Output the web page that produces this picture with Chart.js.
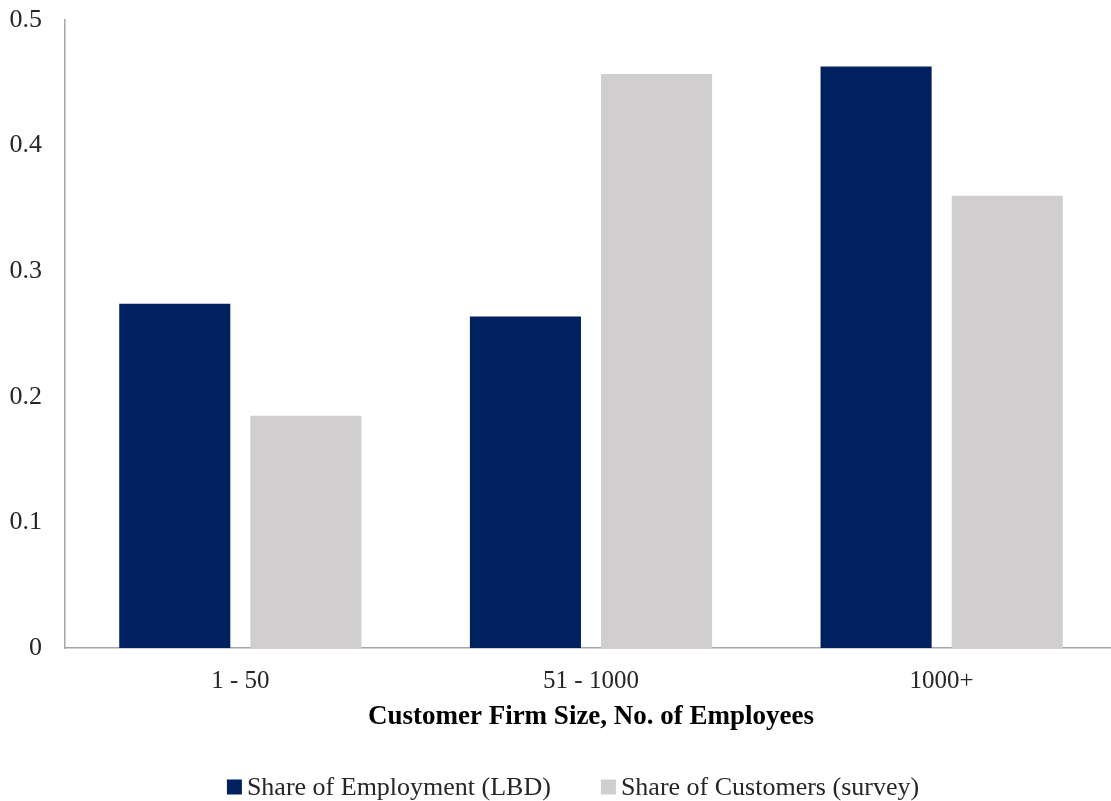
<!DOCTYPE html>
<html>
<head>
<meta charset="utf-8">
<script src="https://cdn.jsdelivr.net/npm/chart.js@4.4.0/dist/chart.umd.min.js"></script>
<style>
  html, body { margin: 0; padding: 0; background: #fff; overflow: hidden; }
  /* canvas is a little wider than the window: the plot runs past the right edge, as in the original */
  #wrap { width: 1111px; height: 801px; overflow: hidden; }
</style>
</head>
<body>
<div id="wrap"><canvas id="chart" width="1117" height="801"></canvas></div>
<script>
// data
var categories = ['1 - 50', '51 - 1000', '1000+'];
var employmentShare = [0.274, 0.264, 0.463];
var customerShare = [0.185, 0.457, 0.360];
var seriesNames = ['Share of Employment (LBD)', 'Share of Customers (survey)'];
var yTicks = [0, 0.1, 0.2, 0.3, 0.4, 0.5];

var FONT = '"Liberation Serif", "DejaVu Serif", serif';
var NAVY = '#002060';
var GREY = '#D0CECE';
var AXIS = '#A6A6A6';
var TEXT = '#262626';

// legend drawn by hand so the spacing between items can be matched
var bottomLegend = {
    id: 'bottomLegend',
    afterDraw: function (chart) {
        var ctx = chart.ctx;
        var sets = chart.data.datasets;
        var box = 15, textGap = 5, itemGap = 50, y = 787;
        ctx.save();
        ctx.font = '26px ' + FONT;
        ctx.textBaseline = 'middle';
        var widths = sets.map(function (ds) { return box + textGap + ctx.measureText(ds.label).width; });
        var total = widths.reduce(function (a, b) { return a + b; }, 0) + itemGap * (sets.length - 1);
        var x = 573 - total / 2;
        sets.forEach(function (ds, i) {
            ctx.fillStyle = ds.backgroundColor;
            ctx.fillRect(x, y - box / 2, box, box);
            ctx.fillStyle = TEXT;
            ctx.fillText(ds.label, x + box + textGap, y + 1);
            x += widths[i] + itemGap;
        });
        ctx.restore();
    }
};

new Chart(document.getElementById('chart'), {
    type: 'bar',
    data: {
        labels: categories,
        datasets: [{
            label: seriesNames[0],
            data: employmentShare,
            backgroundColor: NAVY,
            categoryPercentage: 0.748,
            barPercentage: 0.847
        }, {
            label: seriesNames[1],
            data: customerShare,
            backgroundColor: GREY,
            categoryPercentage: 0.748,
            barPercentage: 0.847
        }]
    },
    options: {
        responsive: false,
        animation: false,
        layout: { padding: { top: 0, right: 0, bottom: 63, left: 0 } },
        plugins: {
            legend: { display: false },
            tooltip: { enabled: false }
        },
        scales: {
            x: {
                grid: { display: false },
                border: { display: true, color: AXIS, width: 1.5 },
                ticks: {
                    color: TEXT,
                    font: { family: FONT, size: 25 },
                    padding: 10
                },
                title: {
                    display: true,
                    text: 'Customer Firm Size, No. of Employees',
                    color: '#000',
                    font: { family: FONT, size: 27, weight: 'bold' },
                    padding: { top: 0, bottom: 5 }
                },
                afterFit: function (scale) { scale.height = 90; }
            },
            y: {
                min: 0,
                max: 0.5,
                grid: { display: false },
                border: { display: true, color: AXIS, width: 1.5 },
                afterBuildTicks: function (scale) {
                    scale.ticks = yTicks.map(function (v) { return { value: v }; });
                },
                ticks: {
                    color: TEXT,
                    font: { family: FONT, size: 26 },
                    padding: 15,
                    callback: function (v) { return String(Math.round(v * 10) / 10); }
                },
                afterFit: function (scale) {
                    scale.width = 65;
                    scale.paddingTop = 20;
                }
            }
        }
    },
    plugins: [bottomLegend]
});
</script>
</body>
</html>
